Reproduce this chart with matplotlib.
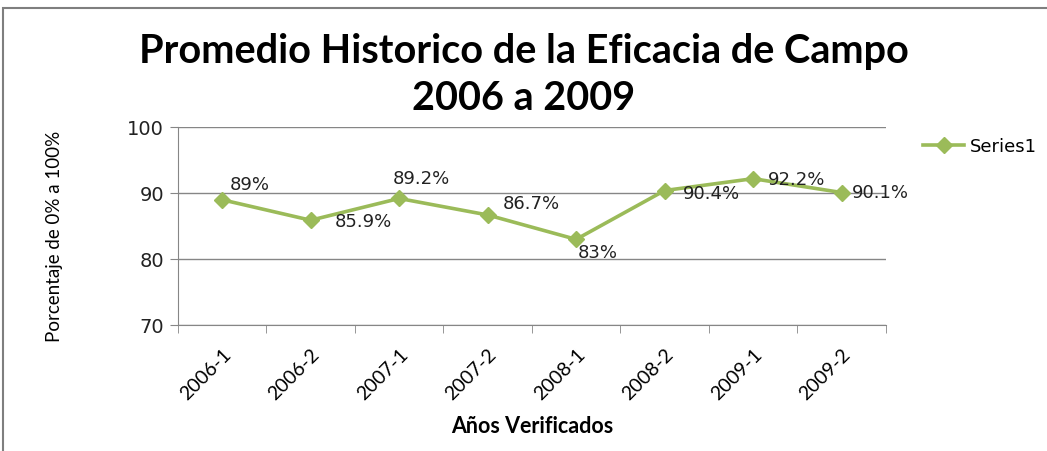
import matplotlib
matplotlib.use("Agg")
import matplotlib.pyplot as plt
from matplotlib.lines import Line2D

periods = ["2006-1", "2006-2", "2007-1", "2007-2", "2008-1", "2008-2", "2009-1", "2009-2"]
efficacy = [89.0, 85.9, 89.2, 86.7, 83.0, 90.4, 92.2, 90.1]
point_labels = ["89%", "85.9%", "89.2%", "86.7%", "83%", "90.4%", "92.2%", "90.1%"]
y_ticks = [70, 80, 90, 100]

# label placement relative to each point, in pixels (dx, dy)
label_offsets = [(8, 15), (24, -2), (-6, 19), (15, 11), (2, -14), (18, -3), (15, -1), (10, 0)]

narrow = ["Lato", "DejaVu Sans"]
green = "#9BBB59"
grid_gray = "#868686"

fig = plt.figure(figsize=(10.47, 4.51), dpi=100)
ax = fig.add_axes([0.170, 0.279, 0.676, 0.439])

x = list(range(len(periods)))
ax.plot(x, efficacy, color=green, linewidth=2.6, marker="D", markersize=8.5, label="Series1")

for xi, yi, txt, (dx, dy) in zip(x, efficacy, point_labels, label_offsets):
    ax.annotate(txt, (xi, yi), xytext=(dx, dy), textcoords="offset pixels",
                ha="left", va="center", fontsize=13, color="#222222", family="DejaVu Sans")

ax.set_xlim(-0.5, len(periods) - 0.5)
ax.set_ylim(70, 100)
ax.set_yticks(y_ticks)
ax.set_yticklabels([str(t) for t in y_ticks], fontsize=14, family="DejaVu Sans", color="#222222")
ax.yaxis.grid(True, color=grid_gray, linewidth=1)
ax.set_axisbelow(True)

ax.set_xticks(x)
ax.set_xticklabels(periods, rotation=45, ha="right", rotation_mode="anchor",
                   fontsize=14, family=narrow)
ax.set_xticks([i - 0.5 for i in range(len(periods) + 1)], minor=True)
ax.tick_params(axis="x", which="major", length=0, pad=15)
ax.tick_params(axis="x", which="minor", length=6, color=grid_gray)
ax.tick_params(axis="y", length=6, color=grid_gray, pad=4)

for side in ["top", "right"]:
    ax.spines[side].set_visible(False)
for side in ["left", "bottom"]:
    ax.spines[side].set_color(grid_gray)

ax.set_xlabel("Años Verificados", fontsize=15.5, fontweight="bold", family=narrow, labelpad=9)
ax.set_ylabel("Porcentaje de 0% a 100%", fontsize=13.5, family=narrow)
ax.yaxis.set_label_coords(-0.163, 0.45)

fig.text(0.5, 0.833, "Promedio Historico de la Eficacia de Campo\n2006 a 2009",
         ha="center", va="center", fontsize=28.5, fontweight="bold", family=narrow, linespacing=1.33)

handle = Line2D([], [], color=green, linewidth=2.6, marker="D", markersize=8.5)
fig.legend([handle], ["Series1"], loc="center left", bbox_to_anchor=(0.866, 0.675),
           frameon=False, handlelength=2.3, handletextpad=0.3,
           prop={"family": "DejaVu Sans", "size": 13})

# outer chart border
fig.add_artist(plt.Rectangle((3 / 1047, -0.1), 1.2, 1 - 8 / 451 + 0.1, transform=fig.transFigure,
                             fill=False, edgecolor="#7f7f7f", linewidth=1.5))

fig.savefig("out.png", dpi=100)
